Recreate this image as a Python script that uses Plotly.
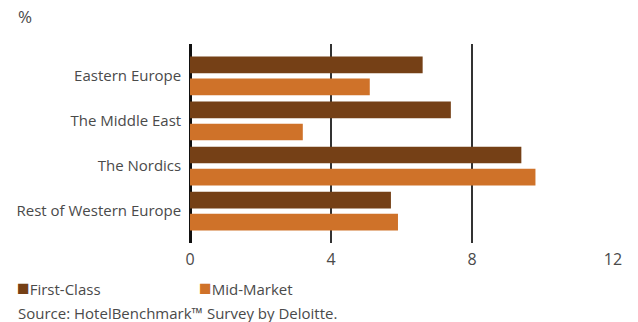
import plotly.graph_objects as go

# Regions (top to bottom) and growth values, %
regions = ["Eastern Europe", "The Middle East", "The Nordics", "Rest of Western Europe"]
first_class = [6.6, 7.4, 9.4, 5.7]
mid_market = [5.1, 3.2, 9.8, 5.9]
x_ticks = [0, 4, 8, 12]

series_names = ["First-Class", "Mid-Market"]
series_colors = ["#754016", "#CF7229"]
FONT = "Open Sans"
TEXT = "#4a4a4a"

# Plot area in pixels
L, R, T, B = 190, 25, 44, 79
W, H = 638, 322
PW, PH = W - L - R, H - T - B


def px_x(px):
    return (px - L) / PW


def px_y(py):
    return (H - B - py) / PH


fig = go.Figure()
for name, vals, col in zip(series_names, [first_class, mid_market], series_colors):
    fig.add_trace(go.Bar(
        y=regions, x=vals, name=name, orientation="h",
        marker=dict(color=col, line=dict(width=0)),
        showlegend=False,
    ))

fig.update_layout(
    width=W, height=H,
    margin=dict(l=L, r=R, t=T, b=B),
    paper_bgcolor="white", plot_bgcolor="white",
    barmode="group", bargap=0.022, bargroupgap=0.24,
    font=dict(family=FONT, size=15, color=TEXT),
    xaxis=dict(
        range=[0, 12], tickvals=x_ticks, ticks="",
        showgrid=True, gridcolor="#333333", gridwidth=1.5,
        zeroline=True, zerolinecolor="#111111", zerolinewidth=2.5,
        showline=False, tickfont=dict(size=16, color=TEXT),
        ticklabelstandoff=5,
        fixedrange=True,
    ),
    yaxis=dict(
        categoryorder="array", categoryarray=regions,
        autorange=False, range=[3.71, -0.71],
        ticks="", showgrid=False, showline=False, zeroline=False,
        tickfont=dict(size=15, color=TEXT), ticksuffix="  ",
    ),
)

# Unit label
fig.add_annotation(text="%", xref="paper", yref="paper", x=px_x(16), y=px_y(17),
                   xanchor="left", yanchor="middle", showarrow=False,
                   font=dict(size=17, color=TEXT))

# Legend built from the series names and colours
legend_x = [15, 197]
for name, col, lx in zip(series_names, series_colors, legend_x):
    fig.add_annotation(
        text=f"<span style='color:{col};font-size:21px'>■</span>{name}",
        xref="paper", yref="paper", x=px_x(lx), y=px_y(287),
        xanchor="left", yanchor="middle", showarrow=False,
        font=dict(size=15, color=TEXT))

fig.add_annotation(text="Source: HotelBenchmark™ Survey by Deloitte.",
                   xref="paper", yref="paper", x=px_x(16), y=px_y(313),
                   xanchor="left", yanchor="middle", showarrow=False,
                   font=dict(size=15, color=TEXT))

fig.write_html("out.html")
